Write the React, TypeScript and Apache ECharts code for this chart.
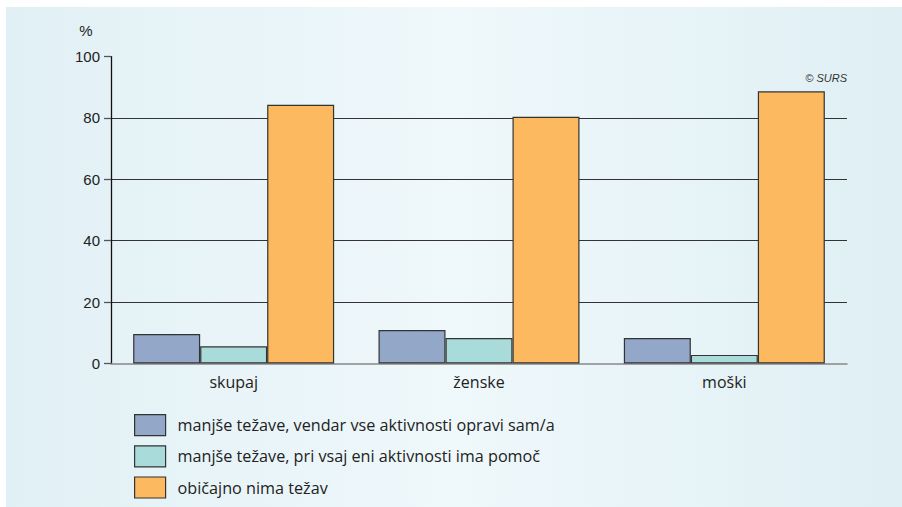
import React, { useEffect, useRef } from "react";
import * as echarts from "echarts";

const categories = ["skupaj", "ženske", "moški"];
const seriesNames = [
  "manjše težave, vendar vse aktivnosti opravi sam/a",
  "manjše težave, pri vsaj eni aktivnosti ima pomoč",
  "običajno nima težav",
];
const smallAlone = [9.6, 10.9, 8.3];
const smallHelp = [5.6, 8.3, 2.8];
const noProblems = [84.3, 80.4, 88.7];
const yTicks = [0, 20, 40, 60, 80, 100];

const colors = ["#93a7c9", "#a8dbd9", "#fdb95f"];

export default function App() {
  const ref = useRef<HTMLDivElement>(null);
  useEffect(() => {
    const chart = echarts.init(ref.current!, null, { renderer: "svg" });
    const values = [smallAlone, smallHelp, noProblems];
    const labelFont = "'Open Sans', 'Noto Sans', sans-serif";
    chart.setOption({
      animation: false,
      graphic: [
        {
          type: "rect",
          z: -10,
          silent: true,
          shape: { x: 6, y: 7, width: 896, height: 500 },
          style: {
            fill: new echarts.graphic.LinearGradient(0, 0, 1, 0, [
              { offset: 0, color: "#e1f0f5" },
              { offset: 0.5, color: "#eff8fb" },
              { offset: 1, color: "#dfeff4" },
            ]),
          },
        },
        {
          type: "text",
          x: 86,
          y: 30,
          style: {
            text: "%",
            fill: "#222",
            font: "15px 'Liberation Sans', Arial, sans-serif",
            align: "center",
            verticalAlign: "middle",
          },
        },
        {
          type: "text",
          x: 847,
          y: 78,
          style: {
            text: "© SURS",
            fill: "#333",
            font: "italic 11px 'Liberation Sans', Arial, sans-serif",
            align: "right",
            verticalAlign: "middle",
          },
        },
      ],
      grid: {
        left: 111,
        right: 55,
        top: 56.6,
        bottom: 143.5,
        containLabel: false,
        outerBoundsMode: "none",
      },
      legend: {
        orient: "vertical",
        left: 134,
        top: 414,
        height: 100,
        padding: 0,
        itemWidth: 31,
        itemHeight: 21,
        itemGap: 9,
        icon: "rect",
        data: seriesNames.map((n, i) => ({
          name: n,
          itemStyle: { color: colors[i], borderColor: "#333", borderWidth: 1.2 },
        })),
        textStyle: {
          fontFamily: labelFont,
          fontSize: 16.2,
          lineHeight: 19,
          color: "#222",
          padding: [0, 0, 0, 7],
        },
        selectedMode: false,
      },
      xAxis: {
        type: "category",
        data: categories,
        axisLine: { show: true, lineStyle: { color: "#888", width: 1.5 } },
        axisTick: { show: false },
        axisLabel: {
          fontFamily: labelFont,
          fontSize: 16,
          color: "#222",
          margin: 10,
        },
        splitLine: { show: false },
      },
      yAxis: {
        type: "value",
        min: yTicks[0],
        max: yTicks[yTicks.length - 1],
        interval: 20,
        axisLine: { show: true, lineStyle: { color: "#111", width: 1.3 } },
        axisTick: { show: true, length: 7, lineStyle: { color: "#555", width: 1.3 } },
        axisLabel: {
          fontFamily: "'Liberation Sans', Arial, sans-serif",
          fontSize: 15,
          color: "#222",
          margin: 11,
        },
        splitLine: {
          show: true,
          showMinLine: false,
          showMaxLine: false,
          lineStyle: { color: "#333", width: 1.2 },
        },
      },
      series: seriesNames.map((name, i) => ({
        name,
        type: "bar",
        data: values[i],
        barWidth: 67,
        barGap: "0%",
        itemStyle: { color: colors[i], borderColor: "#333", borderWidth: 1.2 },
      })),
    });
    return () => chart.dispose();
  }, []);
  return (
    <div
      ref={ref}
      style={{ position: "fixed", left: 0, top: 0, width: 902, height: 507, background: "#fff" }}
    />
  );
}
